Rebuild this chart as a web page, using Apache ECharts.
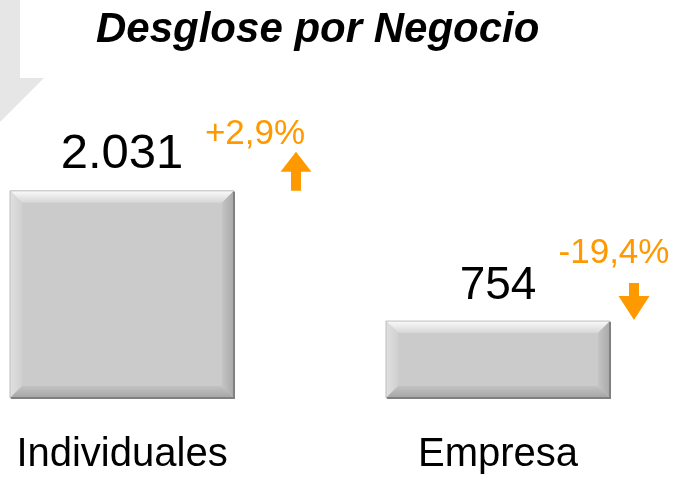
<!DOCTYPE html>
<html>
<head>
<meta charset="utf-8">
<script src="https://cdn.jsdelivr.net/npm/echarts@6/dist/echarts.min.js"></script>
<style>
  html, body { margin: 0; padding: 0; background: #fff; }
  #main { width: 675px; height: 483px; }
</style>
</head>
<body>
<div id="main"></div>
<script>
// datos
const categories = ['Individuales', 'Empresa']
const values = [2031, 754]
const changes = [2.9, -19.4] // variación %

const FONT = "'Liberation Sans', Arial, sans-serif"
const ORANGE = '#ff9900'

// offsets de las etiquetas de variación (respecto al centro / techo de la barra)
const pctOffset = [[133, -39], [116, -50]]
const arrowOffset = [[174, 0], [136, -1]]

const fmtMiles = v => String(v).replace(/\B(?=(\d{3})+(?!\d))/g, '.')
const fmtPct = v => (v > 0 ? '+' : '') + v.toFixed(1).replace('.', ',') + '%'

function arrowPoints(cx, yBase, up) {
  // flecha de bloque, ~31 de ancho
  const hw = 15.5, sw = 5
  if (up) {
    const h = 39, head = 20, t = yBase - h
    return [[cx, t], [cx + hw, t + head], [cx + sw, t + head], [cx + sw, yBase],
            [cx - sw, yBase], [cx - sw, t + head], [cx - hw, t + head]]
  }
  const h = 37, head = 24, t = yBase - h
  return [[cx, yBase], [cx + hw, yBase - head], [cx + sw, yBase - head], [cx + sw, t],
          [cx - sw, t], [cx - sw, yBase - head], [cx - hw, yBase - head]]
}

function renderItem(params, api) {
  const i = params.dataIndex
  const v = api.value(1)
  const base = api.coord([api.value(0), 0])
  const top = api.coord([api.value(0), v])
  const w = 224, b = 12
  const x0 = base[0] - w / 2, x1 = x0 + w
  const yT = top[1], yB = base[1]
  const cx = base[0]
  const chg = changes[i]

  return {
    type: 'group',
    children: [
      { type: 'rect', shape: { x: x0, y: yT, width: w, height: yB - yT }, style: { fill: '#cbcbcb' } },
      { type: 'polygon', shape: { points: [[x0, yT], [x1, yT], [x1 - b, yT + b], [x0 + b, yT + b]] },
        style: { fill: new echarts.graphic.LinearGradient(0, 0, 0, 1, [
          { offset: 0, color: '#fafafa' }, { offset: 1, color: '#d6d6d6' }]) } },
      { type: 'polygon', shape: { points: [[x0, yT], [x0 + b, yT + b], [x0 + b, yB - b], [x0, yB]] },
        style: { fill: new echarts.graphic.LinearGradient(0, 0, 1, 0, [
          { offset: 0, color: '#e0e0e0' }, { offset: 1, color: '#d0d0d0' }]) } },
      { type: 'polygon', shape: { points: [[x1, yT], [x1, yB], [x1 - b, yB - b], [x1 - b, yT + b]] },
        style: { fill: new echarts.graphic.LinearGradient(0, 0, 1, 0, [
          { offset: 0, color: '#c4c4c4' }, { offset: 1, color: '#a9a9a9' }]) } },
      { type: 'polygon', shape: { points: [[x0, yB], [x1, yB], [x1 - b, yB - b], [x0 + b, yB - b]] },
        style: { fill: new echarts.graphic.LinearGradient(0, 0, 0, 1, [
          { offset: 0, color: '#c2c2c2' }, { offset: 1, color: '#a5a5a5' }]) } },
      { type: 'rect', shape: { x: x0, y: yT, width: w, height: yB - yT },
        style: { fill: null, stroke: '#bcbcbc', lineWidth: 1 } },
      { type: 'polyline', shape: { points: [[x1, yT + 1], [x1, yB], [x0 + 1, yB]] },
        style: { fill: null, stroke: '#808080', lineWidth: 2 } },
      // valor
      { type: 'text', style: {
          text: fmtMiles(v), x: cx, y: yT - 12, align: 'center', verticalAlign: 'bottom',
          font: (i === 0 ? 49 : 46) + 'px ' + FONT, fill: '#000' } },
      // variación
      { type: 'text', style: {
          text: fmtPct(chg), x: cx + pctOffset[i][0], y: yT + pctOffset[i][1],
          align: 'center', verticalAlign: 'bottom', font: '35px ' + FONT, fill: ORANGE } },
      { type: 'polygon', shape: { points: arrowPoints(cx + arrowOffset[i][0], yT + arrowOffset[i][1], chg > 0) },
        style: { fill: ORANGE } }
    ]
  }
}

const chart = echarts.init(document.getElementById('main'))
chart.setOption({
  animation: false,
  backgroundColor: '#ffffff',
  title: {
    text: 'Desglose por Negocio',
    left: 91,
    top: 4,
    textStyle: { fontFamily: FONT, fontSize: 42, fontWeight: 'bold', fontStyle: 'italic', color: '#000' }
  },
  graphic: [{
    type: 'polygon', z: -10, silent: true,
    shape: { points: [[-28, -5], [20, -5], [20, 78], [44, 78], [-4, 126], [-52, 78], [-28, 78]] },
    style: { fill: '#e6e6e6' }
  }],
  grid: { left: 122, right: 177, top: 143, bottom: 85 },
  xAxis: {
    type: 'category',
    data: categories,
    boundaryGap: false,
    axisLine: { show: false },
    axisTick: { show: false },
    axisLabel: { fontFamily: FONT, fontSize: 40, color: '#000', margin: 37 }
  },
  yAxis: { type: 'value', min: 0, max: 2500, show: false, splitLine: { show: false } },
  series: [{
    type: 'custom',
    renderItem: renderItem,
    clip: false,
    encode: { x: 0, y: 1 },
    data: categories.map((c, i) => [i, values[i]])
  }]
})
</script>
</body>
</html>
